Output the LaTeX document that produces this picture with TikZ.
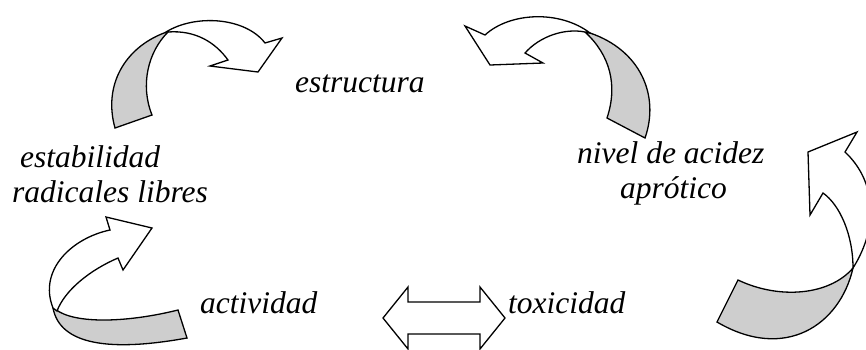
\documentclass[tikz,border=0pt]{standalone}
\usepackage{fontspec}
\setmainfont{Liberation Serif}
\begin{document}
\begin{tikzpicture}[x=1pt,y=-1pt,
  ribbon/.style={draw=black,fill=ribgray,line width=1.3pt,line join=miter},
  body/.style={draw=black,fill=white,line width=1.3pt,line join=miter},
  lbl/.style={anchor=base west,inner sep=0pt,font=\fontsize{31.5}{37}\selectfont\itshape}]
\definecolor{ribgray}{RGB}{206,206,206}
\path[use as bounding box] (0,0) rectangle (866,349);
\clip (0,0) rectangle (866,349);
% top-left arrow
\draw[ribbon] (115,128) .. controls (103,85) and (125,48) .. (164,33)
  -- (168,32) .. controls (148,52) and (140,85) .. (152,115) -- cycle;
\draw[body] (166,32) .. controls (195,14) and (245,17) .. (265,43)
  -- (282,38) -- (258,72) -- (210,66) -- (228,60)
  .. controls (215,42) and (195,30) .. (168,32) -- cycle;
% top-right arrow
\draw[ribbon] (645,138) .. controls (660,95) and (640,50) .. (590,33)
  -- (585,32) .. controls (610,55) and (618,85) .. (607,118) -- cycle;
\draw[body] (590,33) .. controls (560,10) and (510,12) .. (485,35)
  -- (465,26) -- (490,65) -- (543,63) -- (525,53)
  .. controls (540,36) and (565,28) .. (585,32) -- cycle;
% right arrow
\draw[ribbon] (717,322) -- (738,280) .. controls (780,300) and (830,295) .. (853,268)
  .. controls (840,325) and (785,362) .. (717,322) -- cycle;
\draw[body] (853,268) .. controls (853,235) and (840,205) .. (823,193)
  -- (810,215) -- (808,152) -- (857,132) -- (845,152)
  .. controls (875,180) and (880,225) .. (853,268) -- cycle;
% bottom-left arrow
\draw[ribbon] (53,308) .. controls (60,345) and (110,352) .. (187,338)
  -- (178,310) .. controls (130,322) and (75,325) .. (55,309) -- cycle;
\draw[body] (53,308) .. controls (38,270) and (72,238) .. (110,230)
  -- (106,217) -- (152,228) -- (123,270) -- (118,258)
  .. controls (90,270) and (65,290) .. (57,311) -- cycle;
% double arrow
\draw[body] (383,318) -- (408,287) -- (408,302) -- (480,302) -- (480,287)
  -- (505,318) -- (480,349) -- (480,334) -- (408,334) -- (408,349) -- cycle;
% labels
\node[lbl] (estr) at (295,92) {estructura};
\node[lbl] (estab) at (20,167) {estabilidad};
\node[lbl] (rad) at (12,202) {radicales libres};
\node[lbl] (niv) at (577,163) {nivel de acidez};
\node[lbl] (apr) at (620,198) {aprótico};
\node[lbl] (act) at (200,313) {actividad};
\node[lbl] (tox) at (508,313) {toxicidad};
\end{tikzpicture}
\end{document}
